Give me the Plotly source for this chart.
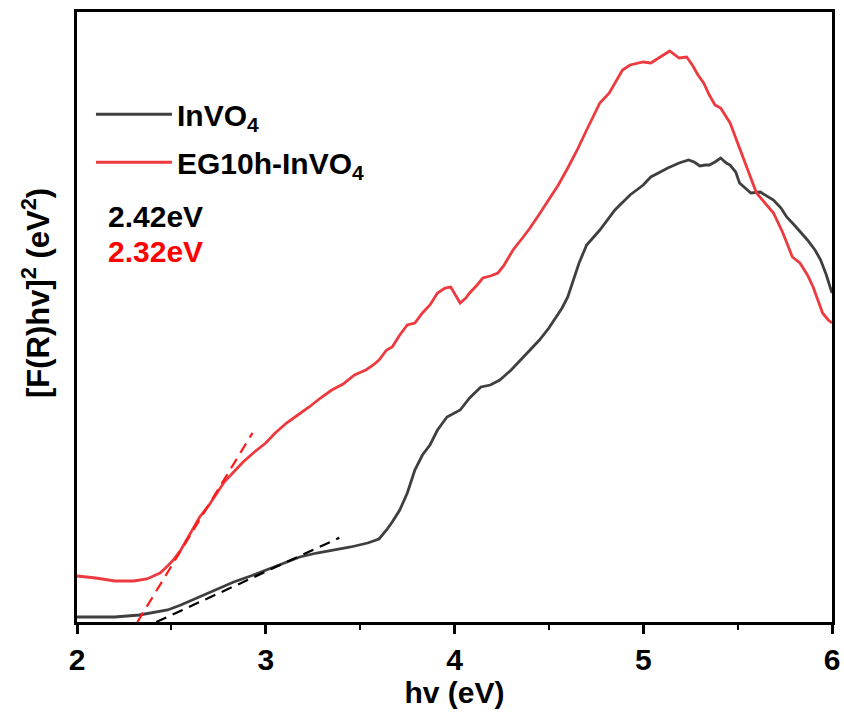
import plotly.graph_objects as go

# ---- data ----
invo4_x = [2.00, 2.10, 2.20, 2.33, 2.40, 2.48, 2.55, 2.65, 2.74, 2.83, 2.92, 3.00, 3.09, 3.18, 3.27,
           3.36, 3.45, 3.54, 3.60, 3.64, 3.67, 3.71, 3.75, 3.79, 3.83, 3.87, 3.91, 3.96, 4.03, 4.08,
           4.14, 4.19, 4.24, 4.30, 4.35, 4.40, 4.45, 4.50, 4.54, 4.57, 4.60, 4.63, 4.66, 4.70, 4.74,
           4.77, 4.85, 4.93, 5.00, 5.04, 5.09, 5.13, 5.19, 5.24, 5.27, 5.30, 5.33, 5.35, 5.38, 5.41,
           5.44, 5.46, 5.49, 5.51, 5.54, 5.57, 5.62, 5.66, 5.69, 5.73, 5.76, 5.80, 5.87, 5.91, 5.94,
           5.97, 6.00]
invo4_px = [617, 617, 617, 615, 613, 610, 605, 597, 590, 582, 576, 570, 563, 557, 553,
            550, 547, 543, 539, 530, 522, 510, 493, 470, 455, 445, 430, 417, 410, 398,
            387, 385, 380, 370, 360, 350, 340, 328, 317, 308, 297, 280, 263, 245, 236,
            230, 210, 195, 185, 177, 172, 168, 163, 160, 162, 166, 165, 165, 162, 158,
            163, 165, 172, 183, 188, 193, 192, 197, 200, 208, 217, 225, 240, 250, 260,
            275, 293]

eg_x = [2.00, 2.10, 2.20, 2.30, 2.37, 2.44, 2.48, 2.51, 2.55, 2.58, 2.62, 2.65, 2.70, 2.74, 2.78,
        2.83, 2.88, 2.94, 3.00, 3.05, 3.11, 3.17, 3.23, 3.29, 3.35, 3.41, 3.47, 3.53, 3.57, 3.60,
        3.64, 3.67, 3.71, 3.75, 3.79, 3.83, 3.87, 3.91, 3.95, 3.98, 4.01, 4.03, 4.06, 4.08, 4.12,
        4.15, 4.19, 4.23, 4.26, 4.28, 4.31, 4.36, 4.40, 4.45, 4.50, 4.55, 4.60, 4.65, 4.70, 4.74,
        4.77, 4.82, 4.86, 4.89, 4.93, 5.00, 5.04, 5.09, 5.14, 5.19, 5.23, 5.26, 5.29, 5.32, 5.35,
        5.38, 5.41, 5.46, 5.51, 5.56, 5.60, 5.66, 5.69, 5.74, 5.79, 5.83, 5.87, 5.90, 5.95, 5.98,
        6.00]
eg_px = [576, 578, 581, 581, 579, 573, 566, 560, 550, 540, 528, 517, 505, 493, 482,
         472, 462, 452, 443, 433, 423, 415, 407, 398, 390, 384, 375, 370, 365, 360,
         350, 347, 335, 325, 323, 313, 305, 293, 288, 287, 297, 303, 298, 293, 285,
         278, 276, 273, 266, 260, 250, 238, 228, 214, 200, 185, 168, 150, 130, 115,
         103, 93, 80, 70, 65, 62, 63, 57, 51, 58, 57, 65, 75, 83, 95,
         105, 108, 123, 147, 173, 193, 207, 213, 233, 257, 263, 275, 287, 313, 320,
         323]

# convert the read-off pixel heights to the arbitrary intensity scale (0-100)
invo4_y = [(622 - p) / 6.1 for p in invo4_px]
eg_y = [(622 - p) / 6.1 for p in eg_px]

# Tauc tangent lines
tan_invo4_x = [2.42, 3.39]
tan_invo4_y = [0.0, 13.8]
tan_eg_x = [2.32, 2.93]
tan_eg_y = [0.0, 31.0]

gap_labels = ["2.42eV", "2.32eV"]
x_ticks = [2, 3, 4, 5, 6]

BLACK = "#3f3f3f"
RED = "#ec3a3f"
FONT = "Liberation Sans, Arial, sans-serif"

fig = go.Figure()
fig.add_trace(go.Scatter(x=invo4_x, y=invo4_y, mode="lines", name="<b>InVO<sub>4</sub></b>",
                         line=dict(color=BLACK, width=2.8), legendgroup="a"))
fig.add_trace(go.Scatter(x=eg_x, y=eg_y, mode="lines", name="<b>EG10h-InVO<sub>4</sub></b>",
                         line=dict(color=RED, width=2.8), legendgroup="b"))
fig.add_trace(go.Scatter(x=tan_invo4_x, y=tan_invo4_y, mode="lines", showlegend=False,
                         line=dict(color="black", width=2.2, dash="11px,7px")))
fig.add_trace(go.Scatter(x=tan_eg_x, y=tan_eg_y, mode="lines", showlegend=False,
                         line=dict(color="#ff1a1a", width=2.2, dash="11px,7px")))

fig.add_annotation(x=0.038, y=0.664, xref="paper", yref="paper", xanchor="left", yanchor="middle",
                   text="<b>%s</b>" % gap_labels[0], showarrow=False,
                   font=dict(family=FONT, size=30, color="black"))
fig.add_annotation(x=0.038, y=0.607, xref="paper", yref="paper", xanchor="left", yanchor="middle",
                   text="<b>%s</b>" % gap_labels[1], showarrow=False,
                   font=dict(family=FONT, size=30, color="#ff0000"))
fig.add_annotation(x=-0.055, y=0.54, xref="paper", yref="paper", xanchor="center", yanchor="middle",
                   text="<b>[F(R)hv]<sup>2</sup> (eV<sup>2</sup>)</b>", showarrow=False, textangle=-90,
                   font=dict(family=FONT, size=31, color="black"))

fig.update_layout(
    width=844, height=713,
    margin=dict(l=77, r=12, t=12, b=91, autoexpand=False),
    paper_bgcolor="white", plot_bgcolor="white",
    font=dict(family=FONT, size=30, color="black"),
    showlegend=True,
    legend=dict(x=0.0185, y=0.875, xanchor="left", yanchor="top", bgcolor="rgba(0,0,0,0)",
                font=dict(family=FONT, size=30, color="black"),
                traceorder="grouped", tracegroupgap=6, itemwidth=76),
    xaxis=dict(range=[2, 6], tickvals=x_ticks, ticktext=["<b>%d</b>" % t for t in x_ticks],
               showline=True, linecolor="black", linewidth=2.5, mirror=True,
               ticks="outside", ticklen=9, tickwidth=2.5, tickcolor="black",
               minor=dict(dtick=0.5, ticks="outside", ticklen=5, tickwidth=2, tickcolor="black"),
               showgrid=False, zeroline=False, automargin=False,
               tickfont=dict(family=FONT, size=30, color="black"),
               title=dict(text="<b>hv (eV)</b>", font=dict(family=FONT, size=30, color="black"),
                          standoff=4)),
    yaxis=dict(range=[0, 100], showticklabels=False, ticks="", automargin=False,
               showline=True, linecolor="black", linewidth=2.5, mirror=True,
               showgrid=False, zeroline=False),
)

fig.write_html("out.html")
